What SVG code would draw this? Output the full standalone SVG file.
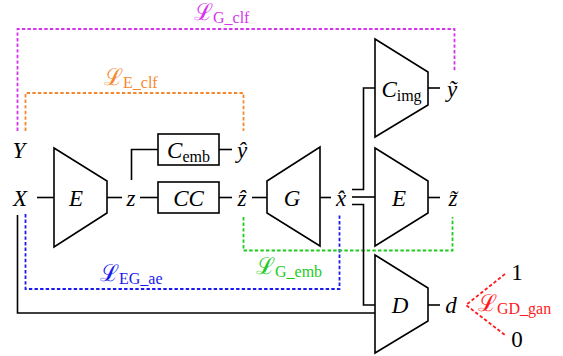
<svg xmlns="http://www.w3.org/2000/svg" width="563" height="356" viewBox="0 0 563 356">
<style>
.ln{fill:none;stroke:#000;stroke-width:1.6}
.blk{fill:#fff;stroke:#000;stroke-width:1.6;stroke-linejoin:miter}
.d{fill:none;stroke-width:1.8;stroke-dasharray:3.4,2.2}
.m{font-family:"Liberation Serif","DejaVu Serif",serif;font-style:italic;font-size:23px;fill:#000}
.r{font-family:"Liberation Serif","DejaVu Serif",serif;font-style:normal;font-size:23px}
.s{font-family:"Liberation Serif","DejaVu Serif",serif;font-style:normal;font-size:16px}
.L{font-family:"DejaVu Serif","Liberation Serif",serif;font-style:normal;font-size:23px}
</style>
<g id="losses">
<path class="d" stroke="#d633ee" d="M17.5,131 V29 H454.5 V71"/>
<path class="d" stroke="#f5882f" d="M25.5,131 V93 H243.5 V131"/>
<path class="d" stroke="#1a1aee" d="M25.5,214 V289 H339.5 V214"/>
<path class="d" stroke="#1ccc1c" d="M243.5,217 V250.5 H452.5 V217"/>
<path class="d" stroke="#ff1a1a" d="M505,274 L466,305 L505,335"/>
</g>
<g id="connectors">
<path class="ln" d="M37,197.5 H54"/>
<path class="ln" d="M107,197.5 H122"/>
<path class="ln" d="M140,197.5 H158"/>
<path class="ln" d="M131.5,180 V149.5 H158"/>
<path class="ln" d="M219,149.5 H232"/>
<path class="ln" d="M219,197.5 H232"/>
<path class="ln" d="M252,197.5 H267"/>
<path class="ln" d="M320,197.5 H331"/>
<path class="ln" d="M352,189.5 H363.5 V88 H375"/>
<path class="ln" d="M352,197 H375"/>
<path class="ln" d="M352,204.5 H363.5 V305 H375"/>
<path class="ln" d="M428,88 H440"/>
<path class="ln" d="M428,197.5 H440"/>
<path class="ln" d="M428,305 H440"/>
<path class="ln" d="M17.5,215 V313 H375"/>
</g>
<g id="E1"><polygon class="blk" points="54,148 107,181 107,213 54,247"/><text class="m" x="76" y="206" text-anchor="middle">E</text></g>
<g id="Cemb"><rect class="blk" x="158" y="134" width="61" height="31"/><text x="188.5" y="158" text-anchor="middle"><tspan class="m">C</tspan><tspan class="s" dy="4">emb</tspan></text></g>
<g id="CC"><rect class="blk" x="158" y="182" width="61" height="31"/><text class="m" x="188.5" y="206" text-anchor="middle">CC</text></g>
<g id="G"><polygon class="blk" points="267,181 320,147 320,246 267,213"/><text class="m" x="292" y="206" text-anchor="middle">G</text></g>
<g id="Cimg"><polygon class="blk" points="375,39 428,72 428,105 375,137"/><text x="401.5" y="97" text-anchor="middle"><tspan class="m">C</tspan><tspan class="s" dy="4">img</tspan></text></g>
<g id="E2"><polygon class="blk" points="375,148 428,181 428,213 375,246"/><text class="m" x="399" y="206" text-anchor="middle">E</text></g>
<g id="D"><polygon class="blk" points="375,255 428,288 428,321 375,353"/><text class="m" x="400" y="313" text-anchor="middle">D</text></g>
<g id="vars">
<text class="m" x="19" y="158" text-anchor="middle">Y</text>
<text class="m" x="20" y="206" text-anchor="middle">X</text>
<text class="m" x="131" y="206" text-anchor="middle">z</text>
<text class="m" x="242" y="158" text-anchor="middle">ŷ</text>
<text class="m" x="242" y="206" text-anchor="middle">ẑ</text>
<text class="m" x="341" y="206" text-anchor="middle">x̂</text>
<text class="m" x="452" y="97" text-anchor="middle">ỹ</text>
<text class="m" x="453" y="206" text-anchor="middle">z̃</text>
<text class="m" x="451" y="313" text-anchor="middle">d</text>
<text class="r" x="517" y="280" text-anchor="middle">1</text>
<text class="r" x="517" y="347" text-anchor="middle">0</text>
</g>
<g id="labels">
<text x="194" y="20" fill="#d633ee"><tspan class="L">ℒ</tspan><tspan class="s" dy="3">G_clf</tspan></text>
<text x="104" y="85" fill="#f5882f"><tspan class="L">ℒ</tspan><tspan class="s" dy="3">E_clf</tspan></text>
<text x="100" y="281" fill="#1a1aee"><tspan class="L">ℒ</tspan><tspan class="s" dy="3">EG_ae</tspan></text>
<text x="256" y="274" fill="#1ccc1c"><tspan class="L">ℒ</tspan><tspan class="s" dy="3">G_emb</tspan></text>
<text x="478" y="311" fill="#ff1a1a"><tspan class="L">ℒ</tspan><tspan class="s" dy="3">GD_gan</tspan></text>
</g>
</svg>
